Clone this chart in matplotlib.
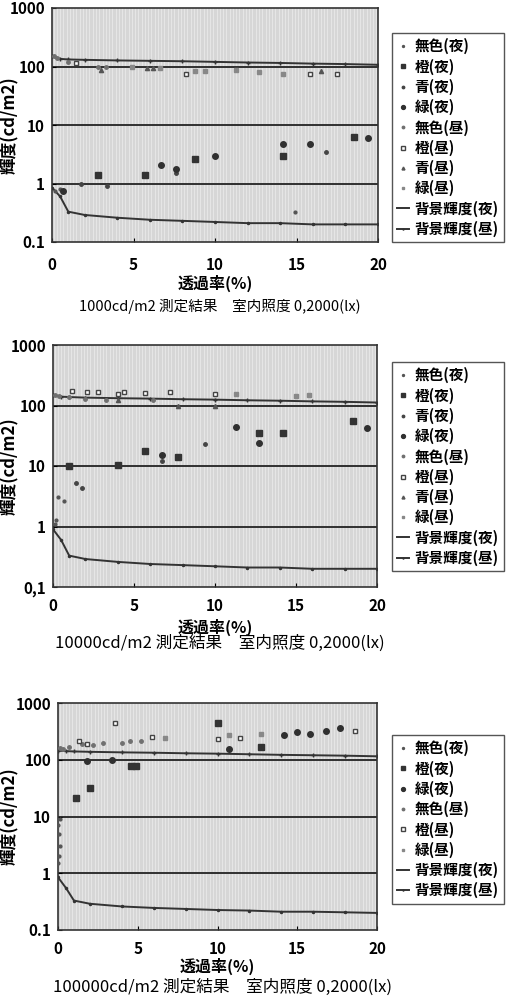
import matplotlib
matplotlib.use("Agg")
import matplotlib.pyplot as plt
import numpy as np

plt.rcParams['font.family'] = ['Noto Sans CJK JP', 'DejaVu Sans']

# background luminance (shared shape in all three charts)
bg_x = [0, 0.5, 1, 2, 4, 6, 8, 10, 12, 14, 16, 18, 20]
bg_night_1 = [0.85, 0.6, 0.33, 0.29, 0.26, 0.24, 0.23, 0.22, 0.21, 0.21, 0.2, 0.2, 0.2]
bg_day_1 = [150, 135, 132, 130, 127, 125, 123, 120, 117, 115, 112, 110, 107]
bg_night_2 = [0.9, 0.6, 0.33, 0.29, 0.26, 0.24, 0.23, 0.22, 0.21, 0.21, 0.2, 0.2, 0.2]
bg_day_2 = [150, 140, 138, 135, 132, 130, 127, 125, 122, 120, 117, 115, 112]
bg_night_3 = [0.85, 0.55, 0.33, 0.29, 0.26, 0.245, 0.235, 0.225, 0.22, 0.21, 0.21, 0.205, 0.2]
bg_day_3 = [145, 142, 140, 138, 135, 133, 130, 128, 125, 122, 120, 118, 115]

# chart 1: 1000cd/m2
c1_mushoku_n_x = [0.2, 0.5, 14.9]
c1_mushoku_n_y = [0.75, 0.8, 0.33]
c1_dai_n_x = [2.8, 5.7, 8.8, 14.2, 18.5]
c1_dai_n_y = [1.4, 1.4, 2.6, 2.9, 6.3]
c1_ao_n_x = [1.8, 3.4, 7.6, 16.8]
c1_ao_n_y = [1.0, 0.9, 1.5, 3.4]
c1_midori_n_x = [0.7, 6.7, 7.6, 10.0, 14.2, 15.8, 19.4]
c1_midori_n_y = [0.75, 2.1, 1.8, 2.9, 4.7, 4.7, 6.0]
c1_mushoku_d_x = [0.1, 0.3, 1.0, 2.8, 3.3]
c1_mushoku_d_y = [150, 140, 120, 100, 100]
c1_dai_d_x = [1.5, 8.2, 15.8, 17.5]
c1_dai_d_y = [115, 75, 75, 75]
c1_ao_d_x = [3.0, 5.8, 6.2, 16.5]
c1_ao_d_y = [88, 95, 95, 85]
c1_midori_d_x = [4.9, 6.6, 8.8, 9.4, 11.3, 12.7, 14.2]
c1_midori_d_y = [97, 95, 85, 85, 88, 82, 75]

# chart 2: 10000cd/m2
c2_mushoku_n_x = [0.1, 0.2, 0.3, 0.7]
c2_mushoku_n_y = [1.1, 1.3, 3.1, 2.6]
c2_dai_n_x = [1.0, 4.0, 5.7, 7.7, 12.7, 14.2, 18.5]
c2_dai_n_y = [10, 10.4, 18, 14, 35, 35, 56]
c2_ao_n_x = [1.4, 1.8, 6.7, 9.4]
c2_ao_n_y = [5.3, 4.4, 12, 23]
c2_midori_n_x = [6.7, 11.3, 12.7, 19.4]
c2_midori_n_y = [15, 44, 24, 43]
c2_mushoku_d_x = [0.1, 0.4, 1.0, 2.0, 3.3, 6.2]
c2_mushoku_d_y = [150, 145, 140, 130, 125, 125]
c2_dai_d_x = [1.2, 2.1, 2.8, 4.0, 4.4, 5.7, 7.2, 10.0]
c2_dai_d_y = [176, 170, 165, 155, 165, 160, 168, 155]
c2_ao_d_x = [4.0, 7.7, 10.0]
c2_ao_d_y = [125, 100, 100]
c2_midori_d_x = [11.3, 15.0, 15.8]
c2_midori_d_y = [155, 145, 150]

# chart 3: 100000cd/m2
c3_mushoku_n_x = [0.0, 0.05, 0.1, 0.05, 0.0, 0.1]
c3_mushoku_n_y = [1.5, 2.0, 3.0, 5.0, 7.0, 9.0]
c3_dai_n_x = [1.1, 2.0, 4.6, 4.9, 10.0, 12.7]
c3_dai_n_y = [21, 32, 79, 79, 440, 170]
c3_midori_n_x = [1.8, 3.4, 10.7, 14.2, 15.0, 15.8, 16.8, 17.7]
c3_midori_n_y = [97, 100, 155, 270, 310, 290, 320, 370]
c3_mushoku_d_x = [0.1, 0.3, 0.7, 1.5, 2.2, 2.8, 4.0, 4.5, 5.2]
c3_mushoku_d_y = [160, 155, 165, 190, 180, 195, 195, 215, 215]
c3_dai_d_x = [1.3, 1.8, 3.6, 5.9, 10.0, 11.4, 18.6]
c3_dai_d_y = [215, 190, 440, 250, 235, 245, 320]
c3_midori_d_x = [6.7, 10.7, 12.7]
c3_midori_d_y = [245, 270, 290]

styles = {
    '無色(夜)': dict(marker='.', ms=4, color='#555555'),
    '橙(夜)': dict(marker='s', ms=4, color='#333333'),
    '青(夜)': dict(marker='.', ms=5, color='#444444'),
    '緑(夜)': dict(marker='o', ms=4, color='#303030'),
    '無色(昼)': dict(marker='o', ms=2.5, color='#707070'),
    '橙(昼)': dict(marker='s', ms=3.5, color='#444444', mfc='white'),
    '青(昼)': dict(marker='^', ms=3, color='#555555'),
    '緑(昼)': dict(marker='s', ms=3, color='#888888'),
}

W, H = 519, 999
fig = plt.figure(figsize=(W / 100, H / 100), dpi=100)


def draw(left, top, right, bottom, series, bg_n, bg_d, ylabels, title,
         tick_pad, xlab_y, title_y, title_size, leg_top):
    ax = fig.add_axes([left / W, 1 - bottom / H, (right - left) / W, (bottom - top) / H])
    ax.set_facecolor('#d6d6d6')
    for xv in np.arange(0.1, 20, 0.2):
        ax.axvline(xv, color='#ececec', lw=0.5, zorder=0)
    for yv in [1, 10, 100]:
        ax.axhline(yv, color='#222222', lw=1.3, zorder=1)
    for lab, xs, ys in series:
        ax.plot(xs, ys, ls='none', label=lab, zorder=3, **styles[lab])
    ax.plot(bg_x, bg_n, color='#333333', lw=1.4, label='背景輝度(夜)', zorder=2)
    ax.plot(bg_x, bg_n, ls='none', marker='.', ms=3, color='#333333', zorder=2)
    ax.plot(bg_x, bg_d, color='#333333', lw=1.4, marker='+', ms=3, label='背景輝度(昼)', zorder=2)
    ax.set_yscale('log')
    ax.set_xlim(0, 20)
    ax.set_ylim(0.1, 1000)
    ax.set_yticks([0.1, 1, 10, 100, 1000])
    ax.set_yticklabels(ylabels)
    ax.yaxis.set_minor_locator(plt.NullLocator())
    ax.set_xticks([0, 5, 10, 15, 20])
    ax.tick_params(direction='in', length=3, labelsize=11)
    ax.tick_params(axis='x', pad=tick_pad)
    ax.tick_params(axis='y', pad=5)
    for t in ax.get_xticklabels() + ax.get_yticklabels():
        t.set_fontweight('bold')
    for s in ax.spines.values():
        s.set_color('#333333')
        s.set_linewidth(1.2)
    ax.set_ylabel('輝度(cd/m2)', fontsize=12, fontweight='bold')
    ax.yaxis.set_label_coords((19 - left) / (right - left), 0.5)
    xc = (left + right) / 2 / W
    fig.text(xc, 1 - xlab_y / H, '透過率(%)', ha='center', va='center',
             fontsize=11.5, fontweight='bold')
    fig.text(xc + 0.01, 1 - title_y / H, title, ha='center', va='center', fontsize=title_size)
    leg = fig.legend(*ax.get_legend_handles_labels(), loc='upper left',
                     bbox_to_anchor=(392 / W, 1 - leg_top / H), bbox_transform=fig.transFigure,
                     borderaxespad=0, prop={'size': 10.5, 'weight': 'bold'},
                     handlelength=0.8, handletextpad=0.4,
                     labelspacing=0.28, borderpad=0.35, markerscale=0.7,
                     fancybox=False, edgecolor='#555555', framealpha=1)
    leg.get_frame().set_linewidth(1.0)
    return ax


s1 = [('無色(夜)', c1_mushoku_n_x, c1_mushoku_n_y), ('橙(夜)', c1_dai_n_x, c1_dai_n_y),
      ('青(夜)', c1_ao_n_x, c1_ao_n_y), ('緑(夜)', c1_midori_n_x, c1_midori_n_y),
      ('無色(昼)', c1_mushoku_d_x, c1_mushoku_d_y), ('橙(昼)', c1_dai_d_x, c1_dai_d_y),
      ('青(昼)', c1_ao_d_x, c1_ao_d_y), ('緑(昼)', c1_midori_d_x, c1_midori_d_y)]
s2 = [('無色(夜)', c2_mushoku_n_x, c2_mushoku_n_y), ('橙(夜)', c2_dai_n_x, c2_dai_n_y),
      ('青(夜)', c2_ao_n_x, c2_ao_n_y), ('緑(夜)', c2_midori_n_x, c2_midori_n_y),
      ('無色(昼)', c2_mushoku_d_x, c2_mushoku_d_y), ('橙(昼)', c2_dai_d_x, c2_dai_d_y),
      ('青(昼)', c2_ao_d_x, c2_ao_d_y), ('緑(昼)', c2_midori_d_x, c2_midori_d_y)]
s3 = [('無色(夜)', c3_mushoku_n_x, c3_mushoku_n_y), ('橙(夜)', c3_dai_n_x, c3_dai_n_y),
      ('緑(夜)', c3_midori_n_x, c3_midori_n_y), ('無色(昼)', c3_mushoku_d_x, c3_mushoku_d_y),
      ('橙(昼)', c3_dai_d_x, c3_dai_d_y), ('緑(昼)', c3_midori_d_x, c3_midori_d_y)]

draw(52, 8, 378, 242, s1, bg_night_1, bg_day_1,
     ['0.1', '1', '10', '100', '1000'], '1000cd/m2 測定結果　室内照度 0,2000(lx)',
     11, 283, 306, 10.5, 33)
draw(53, 345, 377, 587, s2, bg_night_2, bg_day_2,
     ['0,1', '1', '10', '100', '1000'], '10000cd/m2 測定結果　室内照度 0,2000(lx)',
     8, 627, 643, 12, 362)
draw(58, 703, 377, 930, s3, bg_night_3, bg_day_3,
     ['0.1', '1', '10', '100', '1000'], '100000cd/m2 測定結果　室内照度 0,2000(lx)',
     8, 966, 987, 12, 735)

fig.savefig('out.png', dpi=100, facecolor='white')
